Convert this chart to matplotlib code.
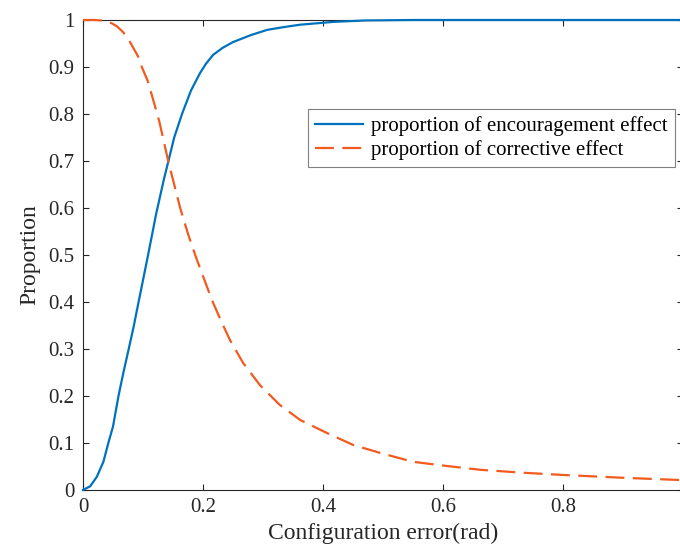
import numpy as np
import matplotlib
matplotlib.use("Agg")
import matplotlib.pyplot as plt

# values
enc_x = [0, 0.012, 0.023, 0.034, 0.042, 0.05, 0.059, 0.067, 0.076, 0.084, 0.092,
         0.108, 0.122, 0.135, 0.142, 0.152, 0.165, 0.18, 0.195, 0.205, 0.217,
         0.233, 0.25, 0.28, 0.307, 0.335, 0.362, 0.417, 0.47, 0.55, 0.7, 1.0]
enc_y = [0, 0.008, 0.028, 0.06, 0.099, 0.135, 0.199, 0.248, 0.299, 0.345, 0.396,
         0.497, 0.588, 0.662, 0.698, 0.75, 0.8, 0.85, 0.887, 0.907, 0.926,
         0.941, 0.953, 0.968, 0.979, 0.985, 0.99, 0.996, 0.999, 1.0, 1.0, 1.0]

cor_x = [0, 0.01, 0.02, 0.03, 0.04, 0.048, 0.057, 0.067, 0.078, 0.092, 0.098,
         0.108, 0.117, 0.127, 0.135, 0.142, 0.150, 0.162, 0.175, 0.187, 0.2,
         0.215, 0.23, 0.245, 0.267, 0.295, 0.328, 0.362, 0.407, 0.45, 0.495,
         0.55, 0.607, 0.662, 0.73, 0.8, 0.9, 1.0]
cor_y = [1, 1, 1, 0.999, 0.997, 0.993, 0.986, 0.974, 0.954, 0.922, 0.9,
         0.87, 0.83, 0.785, 0.74, 0.70, 0.66, 0.6, 0.545, 0.5, 0.455,
         0.404, 0.36, 0.319, 0.27, 0.223, 0.181, 0.149, 0.121, 0.096, 0.079,
         0.06, 0.051, 0.043, 0.037, 0.032, 0.026, 0.021]

xticks = [0, 0.2, 0.4, 0.6, 0.8, 1]
xtick_labels = ["0", "0.2", "0.4", "0.6", "0.8", "1"]
yticks = [0, 0.1, 0.2, 0.3, 0.4, 0.5, 0.6, 0.7, 0.8, 0.9, 1]
ytick_labels = ["0", "0.1", "0.2", "0.3", "0.4", "0.5", "0.6", "0.7", "0.8", "0.9", "1"]

plt.rcParams['font.family'] = ['Liberation Serif', 'DejaVu Serif']

fig = plt.figure(figsize=(6.8, 5.58), dpi=100)
ax = fig.add_axes([83/680, 68/558, 600/680, 470/558])

ax.plot(enc_x, enc_y, color='#0072BD', lw=1.6, clip_on=False, zorder=3,
        label='proportion of encouragement effect')
ax.plot(cor_x, cor_y, color='#F25A1E', lw=1.6, dashes=(8.5, 3.8), clip_on=False,
        zorder=3, label='proportion of corrective effect')

ax.set_xlim(0, 1)
ax.set_ylim(0, 1)
ax.set_xticks(xticks)
ax.set_xticklabels(xtick_labels)
ax.set_yticks(yticks)
ax.set_yticklabels(ytick_labels)
ax.tick_params(direction='in', length=4, width=0.8, top=True, right=True,
               labelsize=15, colors='#262626', pad=6)
for s in ax.spines.values():
    s.set_color('#262626')
    s.set_linewidth(0.8)

ax.set_xlabel('Configuration error(rad)', fontsize=17, color='#262626', labelpad=4)
ax.set_ylabel('Proportion', fontsize=17, color='#262626', labelpad=6)

leg = ax.legend(loc='upper right', bbox_to_anchor=(0.987, 0.811), fontsize=15,
                fancybox=False, edgecolor='#808080', framealpha=1,
                handlelength=2.3, handletextpad=0.4, borderpad=0.35,
                labelspacing=0.2, borderaxespad=0)
leg.get_frame().set_linewidth(0.8)

fig.savefig('out.png', dpi=100)
